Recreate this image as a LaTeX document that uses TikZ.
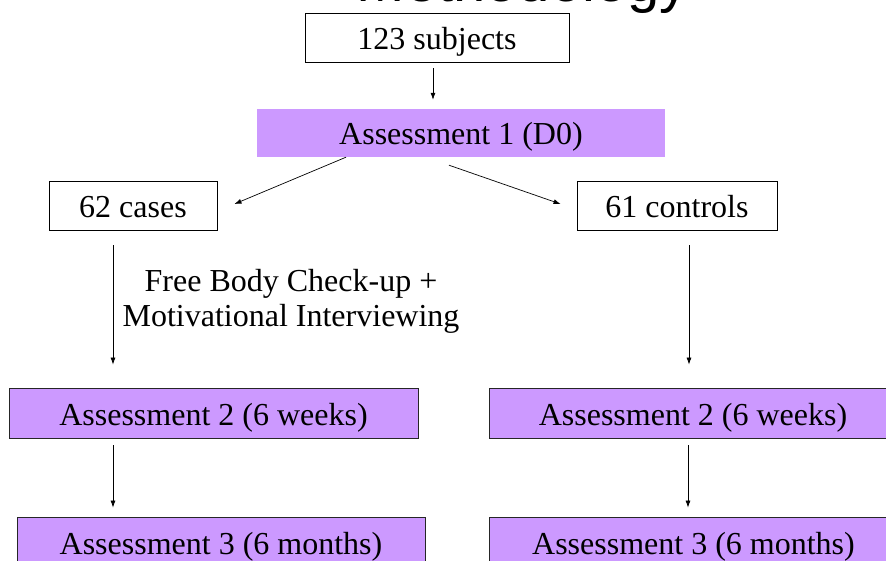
\documentclass[tikz,border=0pt]{standalone}
\usepackage{fontspec}
\setmainfont{Liberation Serif}
\newfontfamily\titlefont{Liberation Sans}
\usetikzlibrary{arrows.meta}
\definecolor{lilac}{HTML}{CC99FF}
\begin{document}
\begin{tikzpicture}[x=1pt,y=-1pt,
  txt/.style={font=\fontsize{32}{35}\selectfont, inner sep=0pt},
  boxtxt/.style={txt, text height=28pt, text depth=4pt},
  plainbox/.style={boxtxt, draw=black, line width=0.9pt, fill=white},
  lilacbox/.style={boxtxt, fill=lilac},
  lilacframe/.style={boxtxt, fill=lilac, draw=black!85, line width=0.8pt},
  arr/.style={draw=black, line width=0.7pt, -{Latex[length=7pt,width=5pt]}}]
\clip (0,0) rectangle (886,561);
\fill[white] (0,0) rectangle (886,561);
\node[font=\titlefont\fontsize{58}{62}\selectfont, anchor=base east, inner sep=0pt] (title) at (689,1.5) {Methodology};
\node[plainbox, minimum width=264pt, minimum height=49pt] (subj) at (437,37.5) {123 subjects};
\node[lilacbox, minimum width=408pt, minimum height=48pt] (a1) at (461,133) {Assessment 1 (D0)};
\node[plainbox, minimum width=168pt, minimum height=49pt] (cases) at (133,205.5) {62 cases};
\node[plainbox, minimum width=200pt, minimum height=49pt] (ctrl) at (677,205.5) {61 controls};
\node[lilacframe, minimum width=409pt, minimum height=50pt] (a2l) at (213.5,413) {Assessment 2 (6 weeks)};
\node[lilacframe, minimum width=408pt, minimum height=50pt] (a2r) at (693,413) {Assessment 2 (6 weeks)};
\node[lilacframe, minimum width=408pt, minimum height=50pt] (a3l) at (221,542) {Assessment 3 (6 months)};
\node[lilacframe, minimum width=409pt, minimum height=50pt] (a3r) at (693.5,542) {Assessment 3 (6 months)};
\node[txt, align=center] (lbl) at (291,301) {Free Body Check-up +\\Motivational Interviewing};
\draw[arr] ([xshift=-4pt,yshift=-6pt]subj.south) -- ([xshift=-28pt,yshift=9pt]a1.north);
\draw[arr] ([xshift=-115pt]a1.south) -- ([xshift=17pt,yshift=1.5pt]cases.east);
\draw[arr] ([xshift=-12pt,yshift=-8pt]a1.south) -- ([xshift=-16pt,yshift=1.5pt]ctrl.west);
\draw[arr] ([xshift=-20pt,yshift=-15pt]cases.south) -- ([xshift=-100.5pt,yshift=23pt]a2l.north);
\draw[arr] ([xshift=12pt,yshift=-15pt]ctrl.south) -- ([xshift=-4pt,yshift=23pt]a2r.north);
\draw[arr] ([xshift=-100.5pt,yshift=-7pt]a2l.south) -- ([xshift=-108pt,yshift=9pt]a3l.north);
\draw[arr] ([xshift=-5pt,yshift=-7pt]a2r.south) -- ([xshift=-5.5pt,yshift=9pt]a3r.north);
\end{tikzpicture}
\end{document}
